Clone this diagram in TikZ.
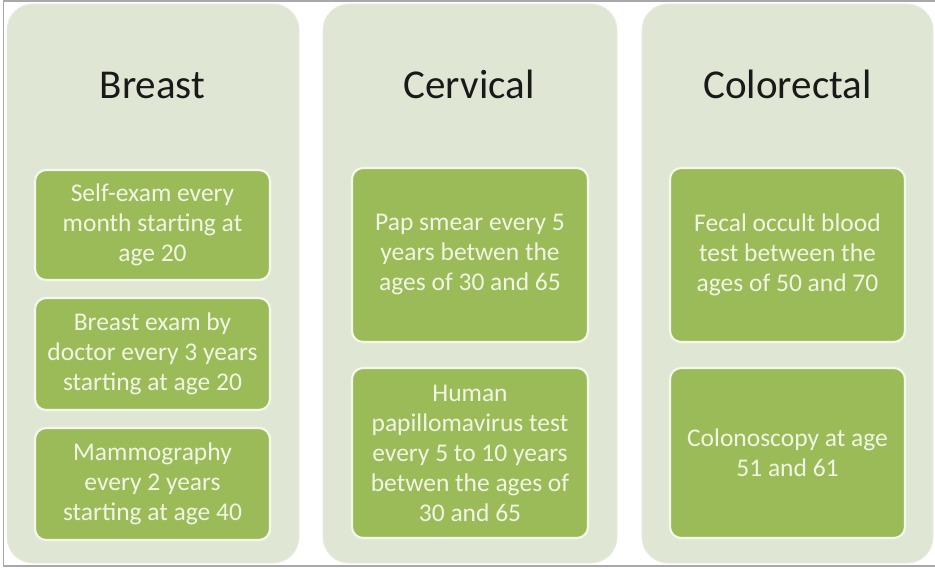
\documentclass[tikz,border=0pt]{standalone}
\usepackage{fontspec}
\setmainfont{Carlito}
\definecolor{panelfill}{HTML}{DFE7D4}
\definecolor{boxfill}{HTML}{9BBB59}
\definecolor{boxedge}{HTML}{F4F7EC}
\definecolor{boxtext}{HTML}{F1F5E4}
\definecolor{framegray}{HTML}{A8A8A8}
\begin{document}
\begin{tikzpicture}[x=1pt,y=-1pt,
  panel/.style={fill=panelfill, draw=panelfill!80!white, line width=0.8pt, rounded corners=26pt, inner sep=0pt},
  title/.style={anchor=base, font=\fontsize{41}{48}\selectfont, text=black!90},
  item/.style={fill=boxfill, draw=boxedge, line width=2.2pt, rounded corners=11pt, align=center,
    text=boxtext, font=\fontsize{25.5}{30}\selectfont, inner sep=0pt}]
\useasboundingbox (0,0) rectangle (935,568);
\fill[white] (0,0) rectangle (935,568);
\draw[framegray, line width=1.5pt] (935,0.8) -- (3.5,0.8) -- (3.5,566) -- (935,566);
% panels
\node[panel, minimum width=292pt, minimum height=559pt] (p1) at (153,283.5) {};
\node[panel, minimum width=294pt, minimum height=559pt] (p2) at (470,283.5) {};
\node[panel, minimum width=291pt, minimum height=559pt] (p3) at (787.5,283.5) {};
% titles
\node[title] (t1) at (152.5,98) {Breast};
\node[title] (t2) at (469,98) {Cervical};
\node[title] (t3) at (787.5,98) {Colorectal};
% breast items
\node[item, minimum width=235pt, minimum height=110pt] (b1) at (152.5,225) {Self-exam every\\month starting at\\age 20};
\node[item, minimum width=235pt, minimum height=112pt] (b2) at (152.5,354) {Breast exam by\\doctor every 3 years\\starting at age 20};
\node[item, minimum width=235pt, minimum height=112pt] (b3) at (152.5,484) {Mammography\\every 2 years\\starting at age 40};
% cervical items
\node[item, minimum width=236pt, minimum height=174pt] (c1) at (470,255) {Pap smear every 5\\years betwen the\\ages of 30 and 65};
\node[item, minimum width=236pt, minimum height=170pt] (c2) at (470,453) {Human\\papillomavirus test\\every 5 to 10 years\\betwen the ages of\\30 and 65};
% colorectal items
\node[item, minimum width=235pt, minimum height=174pt] (r1) at (787.5,255) {Fecal occult blood\\test between the\\ages of 50 and 70};
\node[item, minimum width=235pt, minimum height=170pt] (r2) at (787.5,453) {Colonoscopy at age\\51 and 61};
\end{tikzpicture}
\end{document}
